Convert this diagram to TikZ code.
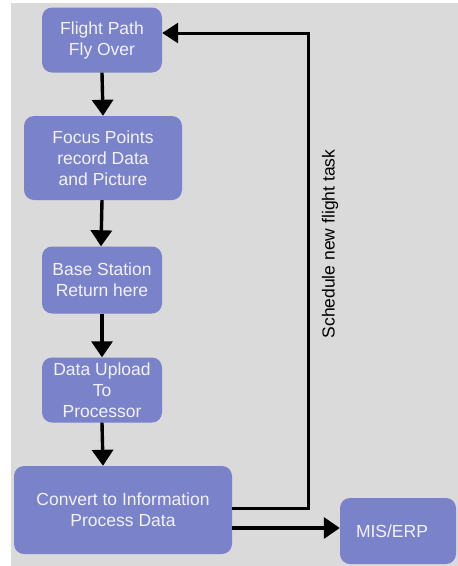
\documentclass[tikz,border=0pt]{standalone}
\usepackage{fontspec}
\setmainfont{Liberation Sans}
\usetikzlibrary{arrows.meta}
\definecolor{boxfill}{RGB}{122,130,202}
\definecolor{panel}{RGB}{218,218,218}
\definecolor{boxtext}{RGB}{242,242,250}
\begin{document}
\begin{tikzpicture}[x=1pt,y=-1pt,
  stepbox/.style={draw=none,fill=boxfill,rounded corners=10pt,text=boxtext,
    font=\fontsize{17.5}{21}\selectfont,align=center,inner sep=0pt},
  flow/.style={line width=3.4pt,-{Triangle[width=21pt,length=16pt]}},
  loop/.style={line width=3pt,-{Triangle[width=20pt,length=16pt]}}]
\useasboundingbox (0,0) rectangle (458,566);
\fill[white] (0,0) rectangle (458,566);
\fill[panel] (11,3) rectangle (458,566);

\node[stepbox,minimum width=120pt,minimum height=65pt] (fly) at (102,40) {Flight Path\\Fly Over};
\node[stepbox,minimum width=158pt,minimum height=84pt] (focus) at (103,158) {Focus Points\\record Data\\and Picture};
\node[stepbox,minimum width=120pt,minimum height=67pt] (base) at (102,280) {Base Station\\Return here};
\node[stepbox,minimum width=120pt,minimum height=65pt] (upload) at (102,390) {Data Upload\\To\\Processor};
\node[stepbox,minimum width=218pt,minimum height=88pt] (convert) at (123,510) {Convert to Information\\Process Data};
\node[stepbox,minimum width=116pt,minimum height=66pt,text width=100pt,align=left] (mis) at (398,531) {\hspace*{8pt}MIS/ERP};

\draw[flow] (fly.south) -- (focus.north);
\draw[flow] ([xshift=-1pt]focus.south) -- ([xshift=-1pt]base.north);
\draw[flow] (base.south) -- (upload.north);
\draw[flow] (upload.south) -- ([xshift=-20pt]convert.north);
\draw[flow] ([yshift=-18pt]convert.east) -- ([yshift=3pt]mis.west);

\coordinate (turn) at (308,33);
\draw[loop] ([yshift=2pt]convert.east) -| (turn) -- ([yshift=7pt]fly.east);
\node[rotate=90,font=\fontsize{17.5}{20}\selectfont,text=black] (sched) at (330,244) {Schedule new flight task};
\end{tikzpicture}
\end{document}
